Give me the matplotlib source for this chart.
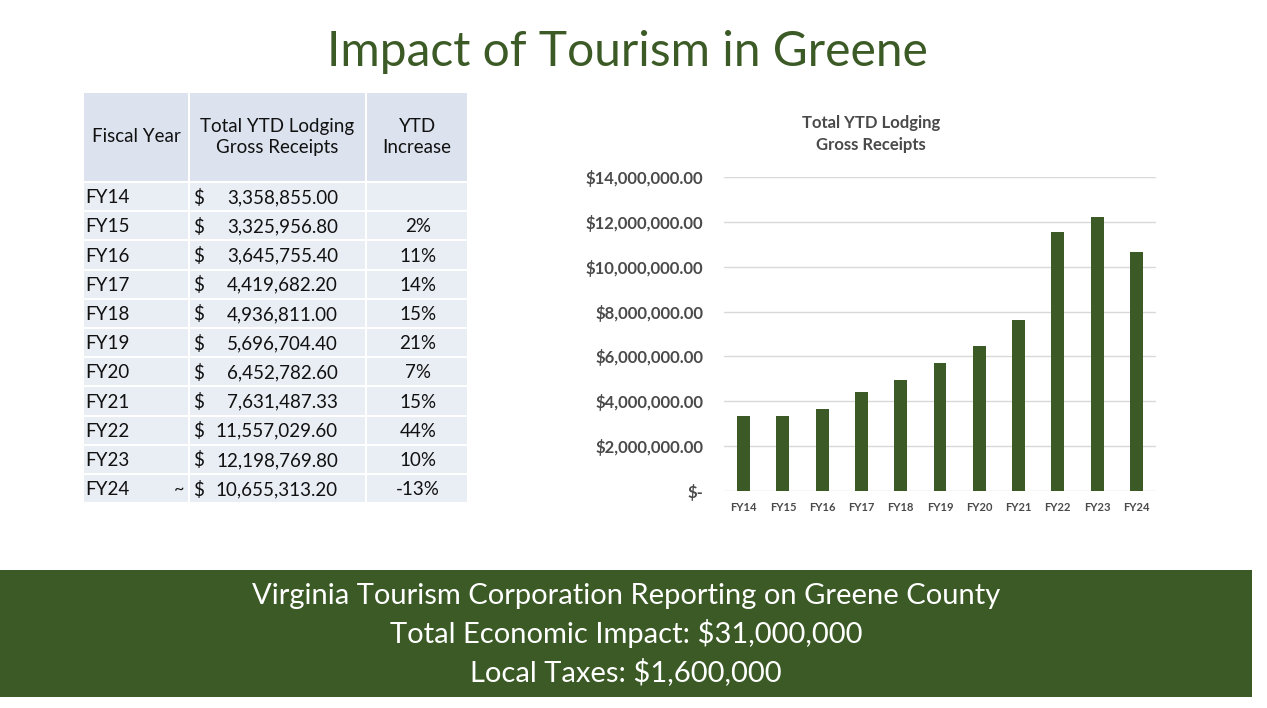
import matplotlib.pyplot as plt
from matplotlib.patches import Rectangle
from matplotlib.ticker import FuncFormatter

plt.rcParams['font.family'] = ['Lato', 'DejaVu Sans']

# data
years = ['FY14', 'FY15', 'FY16', 'FY17', 'FY18', 'FY19', 'FY20', 'FY21', 'FY22', 'FY23', 'FY24']
receipts = [3358855.00, 3325956.80, 3645755.40, 4419682.20, 4936811.00, 5696704.40,
            6452782.60, 7631487.33, 11557029.60, 12198769.80, 10655313.20]
increase = ['', '2%', '11%', '14%', '15%', '21%', '7%', '15%', '44%', '10%', '-13%']
y_ticks = [0, 2000000, 4000000, 6000000, 8000000, 10000000, 12000000, 14000000]
banner_lines = ['Virginia Tourism Corporation Reporting on Greene County',
                'Total Economic Impact: $31,000,000',
                'Local Taxes: $1,600,000']

green = '#3b5a25'
gray = '#4a4a4a'

W, H = 1267, 708
fig = plt.figure(figsize=(W / 100, H / 100), dpi=100)

# background axis in pixel coords for the table / banner
bg = fig.add_axes([0, 0, 1, 1])
bg.set_xlim(0, W)
bg.set_ylim(H, 0)
bg.axis('off')

bg.text(627, 52, 'Impact of Tourism in Greene', ha='center', va='center',
        fontsize=34.5, color=green)

# table
col_x = [84, 190, 367, 469]
head_top, head_bot = 93, 181
row_h = 29.2
hdr_color = '#dce3ef'
row_color = '#e9edf4'
for c in range(3):
    bg.add_patch(Rectangle((col_x[c], head_top), col_x[c + 1] - col_x[c] - 2,
                           head_bot - head_top, color=hdr_color, lw=0))
headers = ['Fiscal Year', 'Total YTD Lodging\nGross Receipts', 'YTD\nIncrease']
for c, h in enumerate(headers):
    bg.text((col_x[c] + col_x[c + 1] - 2) / 2, (head_top + head_bot) / 2, h,
            ha='center', va='center', fontsize=13.5, color='#111111', linespacing=1.25)

for i, yr in enumerate(years):
    top = head_bot + 2 + i * row_h
    for c in range(3):
        bg.add_patch(Rectangle((col_x[c], top), col_x[c + 1] - col_x[c] - 2,
                               row_h - 2, color=row_color, lw=0))
    yc = top + (row_h - 2) / 2 + 1
    bg.text(85, yc, yr, ha='left', va='center', fontsize=13.5, color='#111111')
    if yr == 'FY24':
        bg.text(184, yc, '~', ha='right', va='center', fontsize=13, color='#111111')
    bg.text(193, yc, '$', ha='left', va='center', fontsize=13.5, color='#111111')
    bg.text(338, yc, f'{receipts[i]:,.2f}', ha='right', va='center', fontsize=13.5,
            color='#111111')
    bg.text(418, yc, increase[i], ha='center', va='center', fontsize=13.5, color='#111111')

# banner
bg.add_patch(Rectangle((0, 570), 1252, 127, color=green, lw=0))
for k, line in enumerate(banner_lines):
    bg.text(626, 596 + k * 38, line, ha='center', va='center', fontsize=21, color='white')

# bar chart
ax = fig.add_axes([724 / W, 1 - 491 / H, (1156 - 724) / W, (491 - 177) / H])
ax.bar(years, receipts, width=0.33, color=green)
ax.set_ylim(0, 14000000)
ax.set_xlim(-0.5, len(years) - 0.5)
ax.set_yticks(y_ticks)
ax.yaxis.set_major_formatter(FuncFormatter(lambda v, p: '$-' if v == 0 else f'${v:,.2f}'))
ax.grid(axis='y', color='#d9d9d9', lw=1)
ax.set_axisbelow(True)
for s in ax.spines.values():
    s.set_visible(False)
ax.tick_params(length=0)
ax.tick_params(axis='y', pad=15, labelsize=12, labelcolor=gray)
ax.tick_params(axis='x', pad=8, labelsize=8, labelcolor=gray)
for lbl in ax.get_yticklabels() + ax.get_xticklabels():
    lbl.set_fontweight('bold')
fig.text(871 / W, 1 - 134 / H, 'Total YTD Lodging\nGross Receipts', ha='center',
         va='center', fontsize=12, fontweight='bold', color=gray, linespacing=1.45)

fig.savefig('out.png', dpi=100)
